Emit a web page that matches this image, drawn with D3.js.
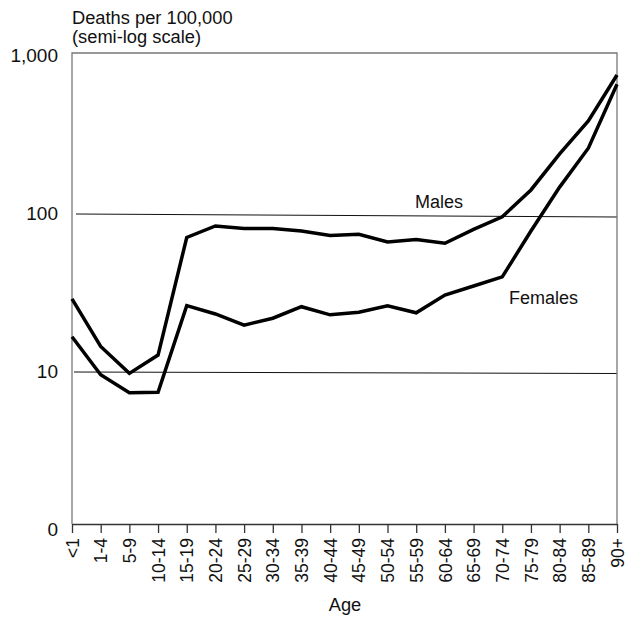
<!DOCTYPE html>
<html>
<head>
<meta charset="utf-8">
<script src="https://cdn.jsdelivr.net/npm/d3@7/dist/d3.min.js"></script>
<style>
  html, body { margin: 0; padding: 0; background: #fff; }
  svg { display: block; }
  text { font-family: "Liberation Sans", Arial, sans-serif; fill: #111; }
</style>
</head>
<body>
<svg id="chart" width="626" height="618"></svg>
<script>
// ---- data ----
const ageGroups = ["<1","1-4","5-9","10-14","15-19","20-24","25-29","30-34","35-39","40-44",
                   "45-49","50-54","55-59","60-64","65-69","70-74","75-79","80-84","85-89","90+"];
const males   = [29, 14.5, 9.8, 12.8, 71, 84, 81, 81, 78, 73, 74.5, 66.5, 69, 65.3, 80, 96, 142, 240, 388, 758];
const females = [16.7, 9.6, 7.4, 7.45, 26.3, 23.3, 19.8, 21.9, 25.9, 23, 23.9, 26.2, 23.7, 30.7, 35, 40, 78, 148, 261, 662];
const yTickValues = [1, 10, 100, 1000];
const yTickLabels = ["0", "10", "100", "1,000"];
const refLines = [10, 100];

// ---- layout ----
const svg = d3.select("#chart");
const left = 72, right = 617, boxTop = 53, boxBottom = 524;

const x = d3.scalePoint().domain(ageGroups).range([left, right]);
const y = d3.scaleLog().domain([1, 1000]).range([530, 56]);

// reference lines (slightly tilted as in the reference)
const tilt = {10: 1.5, 100: 3};
svg.append("g").selectAll("line").data(refLines).join("line")
  .attr("x1", d => d === 100 ? left + 4 : left + 2)
  .attr("x2", right)
  .attr("y1", d => y(d))
  .attr("y2", d => y(d) + tilt[d])
  .attr("stroke", "#111").attr("stroke-width", 1);

// box: top, left, right in gray
svg.append("path")
  .attr("d", `M${left},${boxBottom}V${boxTop}H${right}V${boxBottom}`)
  .attr("fill", "none").attr("stroke", "#777").attr("stroke-width", 1.3);

// x axis
const xAxis = svg.append("g").attr("transform", `translate(0,${boxBottom})`)
  .call(d3.axisBottom(x).tickSize(9).tickSizeOuter(0));
xAxis.select(".domain").attr("stroke", "#333").attr("stroke-width", 1.3);
xAxis.selectAll(".tick line").attr("stroke", "#333").attr("stroke-width", 1.3);
xAxis.selectAll(".tick text")
  .attr("font-size", 17.5)
  .attr("font-family", "Liberation Sans, Arial, sans-serif")
  .attr("fill", "#111")
  .attr("text-anchor", "end")
  .attr("transform", "rotate(-90)")
  .attr("x", -14).attr("y", 0).attr("dy", "0.35em");

// y labels
svg.append("g").selectAll("text").data(yTickValues).join("text")
  .attr("x", 58).attr("y", d => y(d)).attr("dy", "0.3em")
  .attr("text-anchor", "end").attr("font-size", 19)
  .text((d, i) => yTickLabels[i]);

// lines
const line = d3.line().x((d, i) => x(ageGroups[i])).y(d => y(d));
[males, females].forEach(s => {
  svg.append("path").datum(s)
    .attr("d", line)
    .attr("fill", "none").attr("stroke", "#000").attr("stroke-width", 3.5)
    .attr("stroke-linejoin", "miter");
});

// series labels
svg.append("text").attr("x", 415).attr("y", 208).attr("font-size", 18).text("Males");
svg.append("text").attr("x", 509).attr("y", 304).attr("font-size", 18).text("Females");

// titles
svg.append("text").attr("x", 72).attr("y", 24).attr("font-size", 18.3).text("Deaths per 100,000");
svg.append("text").attr("x", 72).attr("y", 43).attr("font-size", 18.3).text("(semi-log scale)");
svg.append("text").attr("x", 345).attr("y", 611).attr("text-anchor", "middle").attr("font-size", 18.3).text("Age");
</script>
</body>
</html>
